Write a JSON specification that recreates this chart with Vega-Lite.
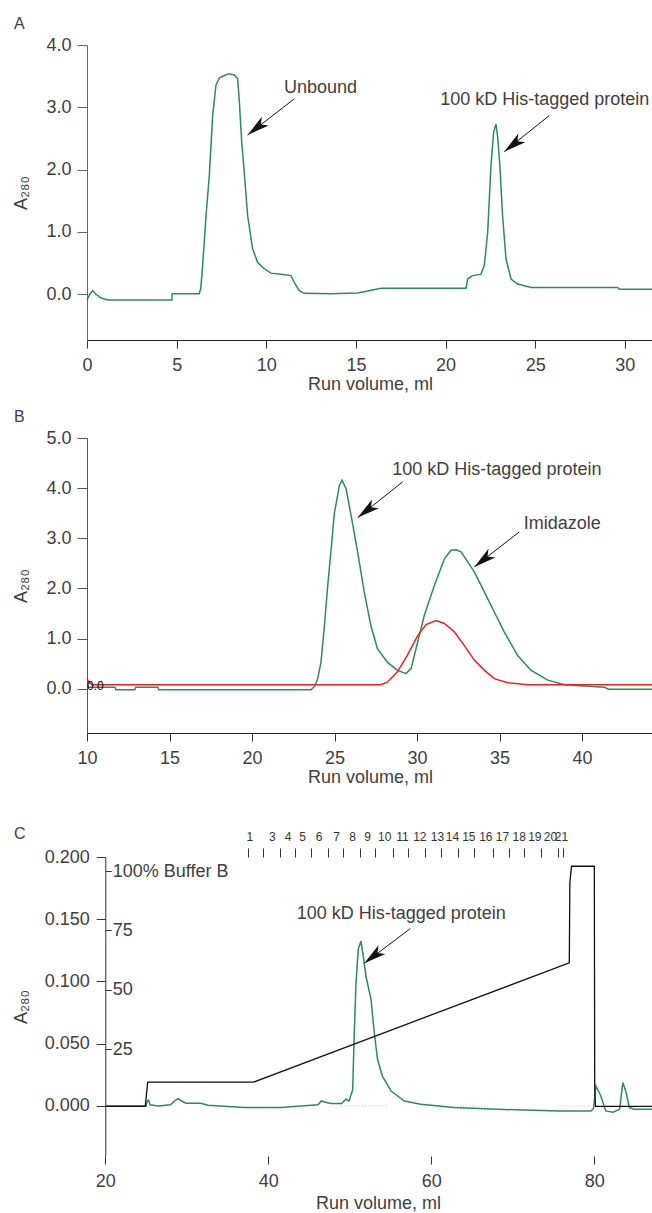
{
  "$schema": "https://vega.github.io/schema/vega-lite/v6.json",
  "padding": {"left": 12, "top": 16, "right": 0, "bottom": 0},
  "background": "white",
  "config": {
    "font": "Liberation Sans",
    "view": {"stroke": null},
    "axis": {"labelFont": "Liberation Sans", "titleFont": "Liberation Sans", "labelFontSize": 18, "titleFontSize": 18, "titleFontWeight": "normal", "labelColor": "#404040", "titleColor": "#404040", "grid": false, "labelOverlap": false, "labelFlush": false, "tickWidth": 1, "domainWidth": 1},
    "title": {"font": "Liberation Sans", "fontSize": 16, "fontWeight": "normal", "color": "#404040", "anchor": "start", "frame": "bounds"}
  },
  "spacing": 40,
  "datasets": {
    "a_trace": [
      {"v": 0, "a": -0.09}, {"v": 0.15, "a": 0.0}, {"v": 0.32, "a": 0.06}, {"v": 0.5, "a": 0.0}, {"v": 0.8, "a": -0.06}, {"v": 1.15, "a": -0.09},
      {"v": 4.74, "a": -0.09}, {"v": 4.75, "a": 0.01}, {"v": 6.26, "a": 0.01}, {"v": 6.35, "a": 0.1}, {"v": 6.45, "a": 0.46}, {"v": 6.64, "a": 1.26},
      {"v": 6.82, "a": 1.9}, {"v": 7.01, "a": 2.87}, {"v": 7.19, "a": 3.35}, {"v": 7.38, "a": 3.47}, {"v": 7.66, "a": 3.51}, {"v": 7.9, "a": 3.54},
      {"v": 8.22, "a": 3.52}, {"v": 8.4, "a": 3.46}, {"v": 8.49, "a": 3.13}, {"v": 8.63, "a": 2.44}, {"v": 8.77, "a": 1.96}, {"v": 8.96, "a": 1.26},
      {"v": 9.24, "a": 0.73}, {"v": 9.52, "a": 0.51}, {"v": 9.89, "a": 0.41}, {"v": 10.26, "a": 0.34}, {"v": 10.82, "a": 0.32}, {"v": 11.38, "a": 0.3},
      {"v": 11.56, "a": 0.19}, {"v": 11.84, "a": 0.06}, {"v": 12.12, "a": 0.016}, {"v": 13.6, "a": 0.01}, {"v": 15.1, "a": 0.02}, {"v": 16.4, "a": 0.096},
      {"v": 21.14, "a": 0.096}, {"v": 21.23, "a": 0.245}, {"v": 21.5, "a": 0.3}, {"v": 21.97, "a": 0.32}, {"v": 22.16, "a": 0.46}, {"v": 22.35, "a": 0.995},
      {"v": 22.53, "a": 2.06}, {"v": 22.68, "a": 2.6}, {"v": 22.81, "a": 2.73}, {"v": 22.9, "a": 2.54}, {"v": 23.03, "a": 2.06}, {"v": 23.18, "a": 1.26},
      {"v": 23.37, "a": 0.57}, {"v": 23.65, "a": 0.245}, {"v": 24.02, "a": 0.165}, {"v": 24.77, "a": 0.11}, {"v": 29.6, "a": 0.11}, {"v": 29.7, "a": 0.08}, {"v": 31.57, "a": 0.08}
    ],
    "a_notes": [
      {"label": "Unbound", "tx": 13.02, "ty": 3.31, "x1": 11.56, "y1": 3.135, "x2": 8.96, "y2": 2.557},
      {"label": "100 kD His-tagged protein", "tx": 25.53, "ty": 3.11, "x1": 25.78, "y1": 2.867, "x2": 23.27, "y2": 2.289}
    ],
    "b_green": [
      {"v": 10, "a": 0.03}, {"v": 11.7, "a": 0.03}, {"v": 11.75, "a": -0.02}, {"v": 12.9, "a": -0.02}, {"v": 12.95, "a": 0.03}, {"v": 14.3, "a": 0.03},
      {"v": 14.35, "a": -0.02}, {"v": 23.58, "a": -0.02}, {"v": 23.8, "a": 0.05}, {"v": 23.98, "a": 0.2}, {"v": 24.18, "a": 0.53}, {"v": 24.4, "a": 1.3},
      {"v": 24.6, "a": 2.1}, {"v": 24.8, "a": 2.8}, {"v": 24.99, "a": 3.5}, {"v": 25.3, "a": 4.06}, {"v": 25.45, "a": 4.16}, {"v": 25.7, "a": 3.99},
      {"v": 26.0, "a": 3.46}, {"v": 26.4, "a": 2.73}, {"v": 26.8, "a": 1.93}, {"v": 27.2, "a": 1.26}, {"v": 27.6, "a": 0.8}, {"v": 28.2, "a": 0.53},
      {"v": 28.8, "a": 0.37}, {"v": 29.33, "a": 0.3}, {"v": 29.64, "a": 0.4}, {"v": 30.04, "a": 0.93}, {"v": 30.44, "a": 1.46}, {"v": 31.05, "a": 2.06},
      {"v": 31.66, "a": 2.59}, {"v": 32.06, "a": 2.76}, {"v": 32.36, "a": 2.77}, {"v": 32.67, "a": 2.73}, {"v": 33.07, "a": 2.53}, {"v": 33.47, "a": 2.33},
      {"v": 34.08, "a": 1.93}, {"v": 34.68, "a": 1.53}, {"v": 35.29, "a": 1.13}, {"v": 36.1, "a": 0.66}, {"v": 36.9, "a": 0.37}, {"v": 37.92, "a": 0.17},
      {"v": 38.93, "a": 0.08}, {"v": 41.35, "a": 0.03}, {"v": 41.6, "a": -0.01}, {"v": 44.3, "a": -0.01}
    ],
    "b_red": [
      {"v": 10, "a": 0.2}, {"v": 10.15, "a": 0.12}, {"v": 10.3, "a": 0.08}, {"v": 27.8, "a": 0.08}, {"v": 28.2, "a": 0.13}, {"v": 28.8, "a": 0.33},
      {"v": 29.4, "a": 0.66}, {"v": 30.04, "a": 1.06}, {"v": 30.55, "a": 1.28}, {"v": 31.15, "a": 1.36}, {"v": 31.66, "a": 1.3}, {"v": 32.27, "a": 1.13},
      {"v": 32.87, "a": 0.86}, {"v": 33.47, "a": 0.57}, {"v": 34.08, "a": 0.37}, {"v": 34.68, "a": 0.2}, {"v": 35.5, "a": 0.12}, {"v": 36.7, "a": 0.08}, {"v": 44.3, "a": 0.08}
    ],
    "b_notes": [
      {"label": "100 kD His-tagged protein", "tx": 34.84, "ty": 4.357, "x1": 29.13, "y1": 4.126, "x2": 26.41, "y2": 3.413},
      {"label": "Imidazole", "tx": 38.8, "ty": 3.293, "x1": 36.2, "y1": 3.128, "x2": 33.47, "y2": 2.429}
    ],
    "b_stray": [{"v": 10.5, "a": 0.05, "t": "0.0"}],
    "c_green": [
      {"v": 20, "a": 0}, {"v": 25.0, "a": 0}, {"v": 25.15, "a": 0.004}, {"v": 25.3, "a": 0.0046}, {"v": 25.5, "a": 0.001}, {"v": 26.5, "a": 0.0},
      {"v": 28.0, "a": 0.001}, {"v": 28.5, "a": 0.004}, {"v": 28.9, "a": 0.0059}, {"v": 29.4, "a": 0.004}, {"v": 29.9, "a": 0.0022}, {"v": 31.7, "a": 0.0022},
      {"v": 32.6, "a": 0.0005}, {"v": 37, "a": -0.0013}, {"v": 41.5, "a": -0.0013}, {"v": 44, "a": 0.0}, {"v": 46.1, "a": 0.001}, {"v": 46.5, "a": 0.004},
      {"v": 47.0, "a": 0.003}, {"v": 47.7, "a": 0.002}, {"v": 49.0, "a": 0.002}, {"v": 49.5, "a": 0.0054}, {"v": 49.9, "a": 0.004}, {"v": 50.35, "a": 0.013},
      {"v": 50.55, "a": 0.059}, {"v": 50.76, "a": 0.099}, {"v": 51.04, "a": 0.126}, {"v": 51.37, "a": 0.1325}, {"v": 51.66, "a": 0.12}, {"v": 51.99, "a": 0.104},
      {"v": 52.6, "a": 0.0857}, {"v": 53.0, "a": 0.059}, {"v": 53.4, "a": 0.0375}, {"v": 54.0, "a": 0.024}, {"v": 55.06, "a": 0.012}, {"v": 56.7, "a": 0.004},
      {"v": 58.7, "a": 0.0014}, {"v": 62.8, "a": -0.0013}, {"v": 68.1, "a": -0.0027}, {"v": 75.7, "a": -0.004}, {"v": 79.6, "a": -0.004}, {"v": 79.9, "a": -0.002},
      {"v": 80.2, "a": 0.016}, {"v": 80.8, "a": 0.008}, {"v": 81.4, "a": -0.004}, {"v": 82.3, "a": -0.005}, {"v": 83.1, "a": -0.0027}, {"v": 83.5, "a": 0.0188},
      {"v": 83.9, "a": 0.011}, {"v": 84.3, "a": -0.0013}, {"v": 84.9, "a": -0.0027}, {"v": 87.2, "a": -0.0027}
    ],
    "c_grad": [
      {"v": 20, "b": 1}, {"v": 24.9, "b": 1}, {"v": 25.2, "b": 11.2}, {"v": 38.2, "b": 11.2}, {"v": 76.93, "b": 61.4}, {"v": 77.0, "b": 95},
      {"v": 77.2, "b": 102}, {"v": 80.0, "b": 102}, {"v": 80.05, "b": 8}, {"v": 80.15, "b": 1}, {"v": 87.2, "b": 1}
    ],
    "c_notes": [
      {"label": "100 kD His-tagged protein", "tx": 56.31, "ty": 0.1545, "x1": 57.42, "y1": 0.1425, "x2": 51.78, "y2": 0.1146}
    ],
    "c_marks": [
      {"v": 48.9, "v2": 54.8}, {"v": 62.8, "v2": 67.0}, {"v": 75.5, "v2": 79.6}
    ]
  },
  "vconcat": [
    {
      "spacing": 16,
      "vconcat": [
        {
          "title": {"text": "A", "dx": 1},
          "width": 566,
          "height": 295,
          "layer": [
            {
              "data": {"name": "a_trace"},
              "mark": {"type": "line", "color": "#2e8b57", "strokeWidth": 1.5},
              "encoding": {
                "x": {"field": "v", "type": "quantitative", "scale": {"domain": [0, 31.57], "nice": false, "zero": false},
                      "axis": {"values": [0, 5, 10, 15, 20, 25, 30], "format": "d", "title": "Run volume, ml", "tickSize": 8, "labelPadding": 8, "titlePadding": 1, "domainColor": "#222", "tickColor": "#333"}},
                "y": {"field": "a", "type": "quantitative", "scale": {"domain": [-0.733, 4.0], "nice": false, "zero": false},
                      "axis": {"values": [0, 0.5, 1, 1.5, 2, 2.5, 3, 3.5, 4], "format": ".1f", "title": "A₂₈₀", "tickSize": 10, "labelPadding": 6, "titlePadding": 15, "domainColor": "#666", "tickColor": "#666"}}
              }
            },
            {"mark": {"type": "rule", "color": "#1a1a1a", "strokeWidth": 1.2}, "encoding": {"y": {"datum": 0}}},
            {"mark": {"type": "rule", "color": "#888888"}, "encoding": {"y": {"datum": 4.0}}},
            {
              "data": {"name": "a_notes"},
              "layer": [
                {"mark": {"type": "rule", "color": "#111", "strokeWidth": 1},
                 "encoding": {"x": {"field": "x1", "type": "quantitative"}, "y": {"field": "y1", "type": "quantitative"}, "x2": {"field": "x2"}, "y2": {"field": "y2"}}},
                {"mark": {"type": "point", "shape": "M0,0L0.5,2L0,1.5L-0.5,2Z", "filled": true, "color": "#111", "opacity": 1, "size": 500, "angle": 232},
                 "encoding": {"x": {"field": "x2", "type": "quantitative"}, "y": {"field": "y2", "type": "quantitative"}}},
                {"mark": {"type": "text", "fontSize": 18, "color": "#404040", "align": "center", "baseline": "middle", "font": "Liberation Sans"},
                 "encoding": {"x": {"field": "tx", "type": "quantitative"}, "y": {"field": "ty", "type": "quantitative"}, "text": {"field": "label"}}}
              ]
            }
          ]
        },
        {
          "title": {"text": "B", "dx": 1},
          "width": 566,
          "height": 295,
          "layer": [
            {
              "data": {"name": "b_green"},
              "mark": {"type": "line", "color": "#2e8b57", "strokeWidth": 1.5},
              "encoding": {
                "x": {"field": "v", "type": "quantitative", "scale": {"domain": [10, 44.3], "nice": false, "zero": false},
                      "axis": {"values": [10, 15, 20, 25, 30, 35, 40], "format": "d", "title": "Run volume, ml", "tickSize": 8, "labelPadding": 8, "titlePadding": 1, "domainColor": "#222", "tickColor": "#333"}},
                "y": {"field": "a", "type": "quantitative", "scale": {"domain": [-0.884, 5.0], "nice": false, "zero": false},
                      "axis": {"values": [0, 0.5, 1, 1.5, 2, 2.5, 3, 3.5, 4, 4.5, 5], "format": ".1f", "title": "A₂₈₀", "tickSize": 10, "labelPadding": 6, "titlePadding": 15, "domainColor": "#555", "tickColor": "#555"}}
              }
            },
            {"data": {"name": "b_red"}, "mark": {"type": "line", "color": "#f02020", "strokeWidth": 1.5},
             "encoding": {"x": {"field": "v", "type": "quantitative"}, "y": {"field": "a", "type": "quantitative"}}},
            {"mark": {"type": "rule", "color": "#1a1a1a", "strokeWidth": 1.2}, "encoding": {"y": {"datum": -0.03}}},
            {"mark": {"type": "rule", "color": "#888888"}, "encoding": {"y": {"datum": 5.0}}},
            {"data": {"name": "b_stray"}, "mark": {"type": "text", "fontSize": 12, "color": "#000", "align": "center", "baseline": "middle", "font": "Liberation Sans"},
             "encoding": {"x": {"field": "v", "type": "quantitative"}, "y": {"field": "a", "type": "quantitative"}, "text": {"field": "t"}}},
            {
              "data": {"name": "b_notes"},
              "layer": [
                {"mark": {"type": "rule", "color": "#111", "strokeWidth": 1},
                 "encoding": {"x": {"field": "x1", "type": "quantitative"}, "y": {"field": "y1", "type": "quantitative"}, "x2": {"field": "x2"}, "y2": {"field": "y2"}}},
                {"mark": {"type": "point", "shape": "M0,0L0.5,2L0,1.5L-0.5,2Z", "filled": true, "color": "#111", "opacity": 1, "size": 500, "angle": 232},
                 "encoding": {"x": {"field": "x2", "type": "quantitative"}, "y": {"field": "y2", "type": "quantitative"}}},
                {"mark": {"type": "text", "fontSize": 18, "color": "#404040", "align": "center", "baseline": "middle", "font": "Liberation Sans"},
                 "encoding": {"x": {"field": "tx", "type": "quantitative"}, "y": {"field": "ty", "type": "quantitative"}, "text": {"field": "label"}}}
              ]
            }
          ]
        }
      ]
    },
    {
      "vconcat": [
        {
          "title": {"text": "C", "dx": 1, "offset": -12},
          "width": 566,
          "height": 299,
          "resolve": {"scale": {"y": "independent"}, "axis": {"x": "independent", "y": "independent"}},
          "layer": [
            {
              "layer": [
                {
                  "data": {"name": "c_green"},
                  "mark": {"type": "line", "color": "#2e8b57", "strokeWidth": 1.5},
                  "encoding": {
                    "x": {"field": "v", "type": "quantitative", "scale": {"domain": [17.754, 87.2], "nice": false, "zero": false},
                          "axis": {"values": [20, 40, 60, 80], "format": "d", "title": "Run volume, ml", "titleX": 291, "domain": false, "tickSize": 8, "labelPadding": 8, "titlePadding": 4, "tickColor": "#333"}},
                    "y": {"field": "a", "type": "quantitative", "scale": {"domain": [-0.0402, 0.2], "nice": false, "zero": false},
                          "axis": {"values": [0, 0.025, 0.05, 0.075, 0.1, 0.125, 0.15, 0.175, 0.2], "format": ".3f", "title": "A₂₈₀", "offset": -18.3, "tickSize": 9, "labelPadding": 7, "titlePadding": 13.3, "domainColor": "#333", "tickColor": "#333"}}
                  }
                },
                {"mark": {"type": "rule", "color": "#222222"},
                 "encoding": {"x": {"datum": 20}, "x2": {"datum": 87.2}, "y": {"datum": -0.0402}}},
                {"mark": {"type": "rule", "color": "#888888"},
                 "encoding": {"x": {"datum": 20}, "x2": {"datum": 87.2}, "y": {"datum": 0.2}}},
                {
                  "data": {"name": "c_notes"},
                  "layer": [
                    {"mark": {"type": "rule", "color": "#111", "strokeWidth": 1},
                     "encoding": {"x": {"field": "x1", "type": "quantitative"}, "y": {"field": "y1", "type": "quantitative"}, "x2": {"field": "x2"}, "y2": {"field": "y2"}}},
                    {"mark": {"type": "point", "shape": "M0,0L0.5,2L0,1.5L-0.5,2Z", "filled": true, "color": "#111", "opacity": 1, "size": 500, "angle": 232},
                     "encoding": {"x": {"field": "x2", "type": "quantitative"}, "y": {"field": "y2", "type": "quantitative"}}},
                    {"mark": {"type": "text", "fontSize": 18, "color": "#404040", "align": "center", "baseline": "middle", "font": "Liberation Sans"},
                     "encoding": {"x": {"field": "tx", "type": "quantitative"}, "y": {"field": "ty", "type": "quantitative"}, "text": {"field": "label"}}}
                  ]
                }
              ]
            },
            {
              "data": {"name": "c_grad"},
              "mark": {"type": "line", "color": "#111", "strokeWidth": 1.3},
              "encoding": {
                "x": {"field": "v", "type": "quantitative", "scale": {"domain": [17.754, 87.2], "nice": false, "zero": false},
                      "axis": {"orient": "top", "values": [37.47, 39.31, 41.44, 43.31, 45.24, 47.29, 49.2, 51.21, 53.09, 55.26, 57.1, 59.26, 61.19, 63.24, 65.28, 67.53, 69.57, 71.41, 73.46, 75.51, 76.12], "labels": false, "title": null, "domain": false, "tickSize": 9, "tickColor": "#333"}},
                "y": {"field": "b", "type": "quantitative", "scale": {"domain": [-19.9, 105.9], "nice": false, "zero": false},
                      "axis": {"orient": "right", "offset": -547.7, "values": [25, 50, 75, 100], "labelExpr": "datum.value == 100 ? '100% Buffer B' : datum.label", "title": null, "domain": false, "tickSize": 6, "labelPadding": 1, "tickColor": "#333"}}
              }
            },
            {
              "data": {"name": "c_marks"},
              "mark": {"type": "rule", "color": "#bbbbbb", "strokeDash": [1, 2], "strokeWidth": 1},
              "encoding": {
                "x": {"field": "v", "type": "quantitative", "scale": {"domain": [17.754, 87.2], "nice": false, "zero": false},
                      "axis": {"orient": "top", "values": [37.66, 40.42, 42.38, 44.13, 46.18, 48.31, 50.27, 52.11, 54.23, 56.4, 58.53, 60.7, 62.54, 64.54, 66.63, 68.67, 70.72, 72.64, 74.56, 75.91],
                               "labelExpr": "['1','3','4','5','6','7','8','9','10','11','12','13','14','15','16','17','18','19','20','21'][indexof([37.66,40.42,42.38,44.13,46.18,48.31,50.27,52.11,54.23,56.4,58.53,60.7,62.54,64.54,66.63,68.67,70.72,72.64,74.56,75.91], datum.value)]",
                               "labelFontSize": 12, "labelColor": "#333", "title": null, "domain": false, "tickSize": 9, "tickOpacity": 0, "labelPadding": 5}},
                "x2": {"field": "v2"},
                "y": {"datum": 0, "scale": {"domain": [-0.0402, 0.2], "nice": false, "zero": false}, "axis": null}
              }
            }
          ]
        }
      ]
    }
  ]
}
